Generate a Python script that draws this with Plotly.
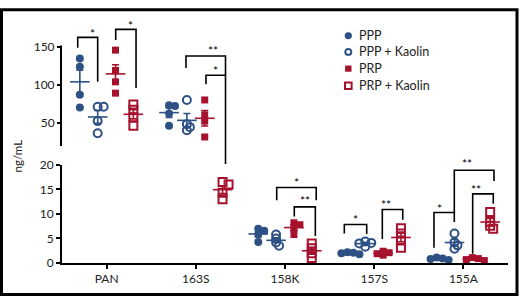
import numpy as np
import plotly.graph_objects as go

# ---------------- data ----------------
categories = ["PAN", "163S", "158K", "157S", "155A"]
series_names = ["PPP", "PPP + Kaolin", "PRP", "PRP + Kaolin"]

ppp = [[135, 124, 87, 70], [73, 72, 62, 46], [7.0, 6.6, 5.8, 4.3],
       [2.2, 2.1, 2.0, 1.8], [1.1, 0.9, 0.8, 0.6]]
ppp_kaolin = [[71, 71, 52, 36], [80, 48, 44, 40], [5.8, 5.0, 4.2, 3.5],
              [4.4, 4.1, 4.0, 3.3], [6.0, 4.2, 3.6, 2.9]]
prp = [[146, 119, 104, 89], [80, 60, 52, 31], [8.2, 7.8, 7.1, 5.8],
       [2.4, 2.1, 1.9, 1.6], [1.1, 0.9, 0.7, 0.5]]
prp_kaolin = [[74, 67, 57, 46], [16.5, 16.0, 14.3, 13.0], [4.0, 3.0, 2.0, 1.0],
              [7.1, 6.0, 4.6, 3.1], [10.4, 8.4, 7.6, 7.0]]
series_values = [ppp, ppp_kaolin, prp, prp_kaolin]

lo_ticks = [0, 5, 10, 15, 20]
hi_ticks = [50, 100, 150]

# significance brackets: x_left, x_right, (left foot, axis), (right foot, axis), (top, axis), label, (label y, axis)
sig_brackets = [
    (-0.324, -0.100, (149, "hi"), (104, "hi"), (162.8, "hi"), "*", (171.4, "hi")),
    (0.102, 0.330, (159.4, "hi"), (95.8, "hi"), (173.5, "hi"), "*", (182, "hi")),
    (0.890, 1.333, (122.2, "hi"), (112.8, "hi"), (138.1, "hi"), "**", (149, "hi")),
    (1.114, 1.333, (100.9, "hi"), (20.2, "lo"), (112.8, "hi"), "*", (123, "hi")),
    (1.907, 2.350, (12.8, "lo"), (12.8, "lo"), (15.4, "lo"), "*", (17.0, "lo")),
    (2.104, 2.340, (9.5, "lo"), (5.5, "lo"), (11.45, "lo"), "**", (13.4, "lo")),
    (2.665, 2.916, (6.0, "lo"), (5.9, "lo"), (7.84, "lo"), "*", (9.5, "lo")),
    (3.091, 3.320, (4.9, "lo"), (8.8, "lo"), (10.9, "lo"), "**", (12.6, "lo")),
    (3.670, 3.898, (3.1, "lo"), (8.35, "lo"), (10.3, "lo"), "*", (11.65, "lo")),
    (3.898, 4.343, (10.3, "lo"), (16.7, "lo"), (18.9, "lo"), "**", (20.9, "lo")),
    (4.104, 4.335, (1.9, "lo"), (12.1, "lo"), (14.1, "lo"), "**", (15.6, "lo")),
]

# ---------------- styling / geometry ----------------
BLUE = "#2E5185"
RED = "#A6122D"
FONT = "Lato"
styles = [
    dict(color=BLUE, symbol="circle", size=8, lw=0),
    dict(color=BLUE, symbol="circle-open", size=8, lw=2),
    dict(color=RED, symbol="square", size=7, lw=0),
    dict(color=RED, symbol="square-open", size=8, lw=2),
]
group_offsets = [-0.3, -0.1, 0.1, 0.3]

W, H = 520, 297
ML, MR, MT, MB = 62, 12, 10, 34
PW, PH = W - ML - MR, H - MT - MB
XR = [-0.5, 4.5]
LO_DOM, LO_R = [0.0, 0.4004], [0, 20]
HI_DOM, HI_R = [0.478, 1.0], [19.2, 188.5]
BREAK = 20
X_PX = PW / (XR[1] - XR[0])


def dom_range(ax):
    return (HI_DOM, HI_R) if ax == "hi" else (LO_DOM, LO_R)


def yp(v, ax):
    dom, r = dom_range(ax)
    return dom[0] + (v - r[0]) / (r[1] - r[0]) * (dom[1] - dom[0])


def xp(x):
    return (x - XR[0]) / (XR[1] - XR[0])


def px_x(px):
    return (px - ML) / PW


def px_y(py):
    return (H - MB - py) / PH


def y_px_per_unit(ax):
    dom, r = dom_range(ax)
    return PH * (dom[1] - dom[0]) / (r[1] - r[0])


def swarm(vals, ax, min_d=4.0, step=3.0):
    sc = y_px_per_unit(ax)
    placed, offs = [], [0.0] * len(vals)
    cands = [0.0] + [s * step * m for m in range(1, 6) for s in (1, -1)]
    for i in range(len(vals)):
        y = vals[i] * sc
        chosen = cands[-1]
        for c in cands:
            if all((c - a) ** 2 + (y - b) ** 2 >= min_d ** 2 for a, b in placed):
                chosen = c
                break
        placed.append((chosen, y))
        offs[i] = chosen / X_PX
    return offs


fig = go.Figure()

# points
for s, vals_by_cat in enumerate(series_values):
    st = styles[s]
    for ax in ("lo", "hi"):
        xs, ys = [], []
        for c, vals in enumerate(vals_by_cat):
            a = "hi" if np.mean(vals) > BREAK else "lo"
            if a != ax:
                continue
            offs = swarm(vals, a)
            xs += [c + group_offsets[s] + o for o in offs]
            ys += list(vals)
        if not xs:
            continue
        fig.add_trace(go.Scatter(
            x=xs, y=ys, mode="markers", name=series_names[s], showlegend=False,
            yaxis="y2" if ax == "hi" else "y", cliponaxis=False,
            marker=dict(symbol=st["symbol"], size=st["size"], color=st["color"],
                        line=dict(width=st["lw"], color=st["color"])),
        ))

# mean +/- SEM
for s, vals_by_cat in enumerate(series_values):
    st = styles[s]
    for ax in ("lo", "hi"):
        xs, ms, es = [], [], []
        for c, vals in enumerate(vals_by_cat):
            a = "hi" if np.mean(vals) > BREAK else "lo"
            if a != ax:
                continue
            v = np.array(vals, dtype=float)
            xs.append(c + group_offsets[s])
            ms.append(v.mean())
            es.append(v.std(ddof=1) / np.sqrt(len(v)))
        if not xs:
            continue
        fig.add_trace(go.Scatter(
            x=xs, y=ms, mode="markers", showlegend=False,
            yaxis="y2" if ax == "hi" else "y", cliponaxis=False,
            marker=dict(symbol="line-ew", size=14, color=st["color"],
                        line=dict(width=1.6, color=st["color"])),
            error_y=dict(type="data", array=es, visible=True, color=st["color"],
                         thickness=1.6, width=3.5),
        ))

shapes = []
annotations = []

# upper axis line (broken axis)
shapes.append(dict(type="line", xref="paper", yref="paper", x0=-1 / PW, x1=-1 / PW,
                   y0=yp(HI_R[0], "hi"), y1=yp(152, "hi"),
                   line=dict(color="black", width=2)))

# significance brackets
for xl, xr, lb, rb, top, label, ly in sig_brackets:
    path = "M {} {} L {} {} L {} {} L {} {}".format(
        xp(xl), yp(*lb), xp(xl), yp(*top), xp(xr), yp(*top), xp(xr), yp(*rb))
    shapes.append(dict(type="path", xref="paper", yref="paper", path=path,
                       line=dict(color="black", width=1.6)))
    annotations.append(dict(x=xp((xl + xr) / 2), y=yp(*ly), xref="paper", yref="paper",
                            text=label, showarrow=False, yanchor="middle", yshift=-3,
                            font=dict(family=FONT, size=12, color="black")))

# custom legend
leg_y = [28.3, 45.0, 62.3, 80.0]
leg_x = 348.3
for s in range(4):
    cy = leg_y[s]
    if s == 0:
        shapes.append(dict(type="circle", xref="paper", yref="paper",
                           x0=px_x(leg_x - 3.6), x1=px_x(leg_x + 3.6), y0=px_y(cy + 3.6), y1=px_y(cy - 3.6),
                           fillcolor=BLUE, line=dict(width=0)))
    elif s == 1:
        shapes.append(dict(type="circle", xref="paper", yref="paper",
                           x0=px_x(leg_x - 3), x1=px_x(leg_x + 3), y0=px_y(cy + 3), y1=px_y(cy - 3),
                           fillcolor="white", line=dict(width=2, color=BLUE)))
    elif s == 2:
        shapes.append(dict(type="rect", xref="paper", yref="paper",
                           x0=px_x(leg_x - 3.2), x1=px_x(leg_x + 3.2), y0=px_y(cy + 3.2), y1=px_y(cy - 3.2),
                           fillcolor=RED, line=dict(width=0)))
    else:
        shapes.append(dict(type="rect", xref="paper", yref="paper",
                           x0=px_x(leg_x - 3.3), x1=px_x(leg_x + 3.3), y0=px_y(cy + 3.3), y1=px_y(cy - 3.3),
                           fillcolor="white", line=dict(width=2, color=RED)))
    annotations.append(dict(x=px_x(356.7), y=px_y(cy), xref="paper", yref="paper",
                            text=series_names[s], showarrow=False, xanchor="left", yanchor="middle",
                            font=dict(family=FONT, size=12.5, color="#222")))

# y title
annotations.append(dict(x=px_x(17), y=px_y(153), xref="paper", yref="paper", text="ng/mL",
                        textangle=-90, showarrow=False, xanchor="center", yanchor="middle",
                        font=dict(family=FONT, size=11.5, color="#222")))

# image frame
shapes.append(dict(type="rect", xref="paper", yref="paper",
                   x0=px_x(1.5), x1=px_x(517), y0=px_y(1.5), y1=px_y(295.5),
                   line=dict(color="black", width=3)))

axis_common = dict(showgrid=False, zeroline=False, ticks="outside", ticklen=4, tickwidth=2,
                   tickcolor="black", tickfont=dict(family=FONT, size=12, color="#222"))

fig.update_layout(
    width=W, height=H,
    margin=dict(l=ML, r=MR, t=MT, b=MB),
    paper_bgcolor="white", plot_bgcolor="white",
    showlegend=False,
    xaxis=dict(range=XR, tickmode="array", tickvals=list(range(len(categories))), ticktext=categories,
               showline=True, linecolor="black", linewidth=2, anchor="y", **axis_common),
    yaxis=dict(domain=LO_DOM, range=LO_R, tickmode="array", tickvals=lo_ticks,
               showline=True, linecolor="black", linewidth=2, anchor="x", **axis_common),
    yaxis2=dict(domain=HI_DOM, range=HI_R, tickmode="array", tickvals=hi_ticks,
                showline=False, anchor="x", **axis_common),
    shapes=shapes,
    annotations=annotations,
)

fig.write_html("out.html", config={"displayModeBar": False},
               post_script="document.body.style.margin='0';document.body.style.overflow='hidden';")
